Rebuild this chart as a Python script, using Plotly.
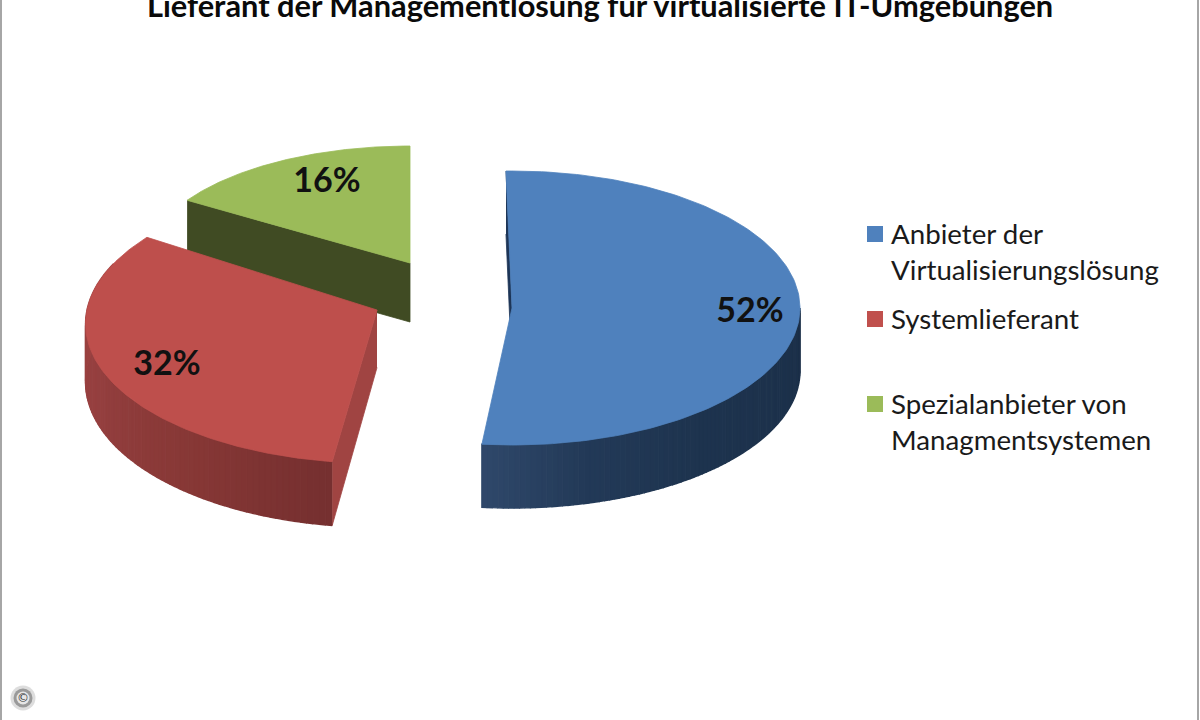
import numpy as np
import plotly.graph_objects as go

# --- data ---
title = "Lieferant der Managementlösung für virtualisierte IT-Umgebungen"
categories = [["Anbieter der", "Virtualisierungslösung"], ["Systemlieferant"], ["Spezialanbieter von", "Managmentsystemen"]]
shares = [52, 32, 16]
top_colors = ["#4F81BD", "#BE4F4C", "#9BBB59"]
legend_colors = ["#4F81BD", "#C0504D", "#9BBB59"]
label_pos = [(750, 313), (167, 366), (327, 183)]
legend_y = [234, 319, 404]

# --- drawing style of the tilted pie ---
FONT = "Lato"
START = -1.2  # deg
geom = [
    dict(ax=512, ay=308, R=288, up=137, down=137, D=1e9, h=63, rot=0),
    dict(ax=377, ay=310, R=290, up=140, down=138, D=2900, h=57.5, rot=2),
    dict(ax=410, ay=263, R=264, up=117, down=117, D=1e9, h=59, rot=1.2),
]
wall_stops = [
    [(90, "#1c3049"), (140, "#1e344f"), (165, "#233a58"), (187, "#30496c")],
    [(189, "#763030"), (215, "#873836"), (250, "#964040"), (290, "#a04442")],
    [(300, "#3f4a22"), (360, "#3f4a22")],
]
cut_colors = ["#1d3557", "#a04442", "#404b23"]


def project(g, theta):
    t = np.radians(theta)
    X, Y = g["R"] * np.sin(t), g["R"] * np.cos(t)
    s = 1 / (1 + Y / g["D"])
    k = np.where(Y > 0, g["up"], g["down"]) / g["R"]
    return g["ax"] + X * s, g["ay"] - k * Y * s, g["h"] * s


def hex_rgb(c):
    return np.array([int(c[i:i + 2], 16) for i in (1, 3, 5)])


def wall_color(stops, th):
    a = [p[0] for p in stops]
    rgb = np.array([hex_rgb(p[1]) for p in stops])
    v = [np.interp(th, a, rgb[:, i]) for i in range(3)]
    return "rgb(%d,%d,%d)" % tuple(v)


fig = go.Figure()


def poly(xs, ys, color, w=0.8):
    fig.add_trace(go.Scatter(x=list(xs), y=list(ys), mode="lines", fill="toself",
                             fillcolor=color, line=dict(color=color, width=w),
                             hoverinfo="skip", showlegend=False))


total = sum(shares)
edges = START + np.cumsum([0] + shares) * 360 / total
spans = [(edges[i] + geom[i]["rot"], edges[i + 1] + geom[i]["rot"]) for i in range(3)]

for idx in [2, 0, 1]:  # back slice first, then blue, then the red one in front
    g = geom[idx]
    a0, a1 = spans[idx]
    x, y, h = project(g, np.array([a0]))
    if idx == 1:
        poly([g["ax"], x[0], x[0], g["ax"]], [g["ay"], y[0], y[0] + h[0], g["ay"] + g["h"]], cut_colors[1])
    else:
        poly([x[0], g["ax"], g["ax"], x[0]], [y[0], g["ay"], g["ay"] + g["h"], y[0] + h[0]], cut_colors[idx])
    # outer wall in small steps to give the shading
    if idx in (0, 1):
        lo, hi = (90, a1) if idx == 0 else (a0, 290)
        steps = np.linspace(lo, hi, 90)
        for b0, b1 in zip(steps[:-1], steps[1:]):
            th = np.linspace(b0, b1, 3)
            x, y, h = project(g, th)
            poly(np.r_[x, x[::-1]], np.r_[y, (y + h)[::-1]], wall_color(wall_stops[idx], (b0 + b1) / 2), 1.4)
    # top face
    th = np.linspace(a0, a1, 160)
    x, y, _ = project(g, th)
    poly(np.r_[g["ax"], x, g["ax"]], np.r_[g["ay"], y, g["ay"]], top_colors[idx])

# percent labels
fig.add_trace(go.Scatter(x=[p[0] for p in label_pos], y=[p[1] for p in label_pos], mode="text",
                         text=["%d%%" % v for v in shares],
                         textfont=dict(family=FONT, size=34, color="#111111", weight=700),
                         hoverinfo="skip", showlegend=False))

# legend
fig.add_trace(go.Scatter(x=[875] * 3, y=legend_y, mode="markers",
                         marker=dict(symbol="square", size=16, color=legend_colors),
                         hoverinfo="skip", showlegend=False))
annots = []
for lines, ly in zip(categories, legend_y):
    for i, line in enumerate(lines):
        annots.append(dict(x=889, y=ly - 1 + i * 36, xref="x", yref="y", text=line, showarrow=False,
                           xanchor="left", yanchor="middle", align="left",
                           font=dict(family=FONT, size=27.7, color="#1a1a1a")))
annots.append(dict(x=600, y=5, xref="x", yref="y", text="<b>%s</b>" % title, showarrow=False,
                   xanchor="center", yanchor="middle",
                   font=dict(family=FONT, size=30.8, color="#0a0a0a")))
annots.append(dict(x=23, y=698, xref="x", yref="y", text="©", showarrow=False,
                   font=dict(family="DejaVu Sans", size=12, color="#333333")))

# copyright badge
fig.add_trace(go.Scatter(x=[23], y=[698], mode="markers",
                         marker=dict(size=25, color="rgba(170,170,170,0.4)"),
                         hoverinfo="skip", showlegend=False))
fig.add_trace(go.Scatter(x=[23], y=[698], mode="markers",
                         marker=dict(size=19, color="#9a9a9a"),
                         hoverinfo="skip", showlegend=False))
fig.add_trace(go.Scatter(x=[23], y=[698], mode="markers",
                         marker=dict(size=13, color="#e6e6e6"),
                         hoverinfo="skip", showlegend=False))

fig.update_layout(
    width=1200, height=720, margin=dict(l=0, r=0, t=0, b=0),
    paper_bgcolor="white", plot_bgcolor="white", showlegend=False,
    xaxis=dict(range=[0, 1200], visible=False, fixedrange=True),
    yaxis=dict(range=[720, 0], visible=False, fixedrange=True),
    annotations=annots,
    shapes=[
        dict(type="line", xref="x", yref="y", x0=1, x1=1, y0=0, y1=720, line=dict(color="#a6a6a6", width=2)),
        dict(type="line", xref="x", yref="y", x0=1198, x1=1198, y0=0, y1=720, line=dict(color="#a6a6a6", width=2)),
    ],
)
fig.write_html("out.html", post_script="document.body.style.margin='0';",
               config=dict(displayModeBar=False))
